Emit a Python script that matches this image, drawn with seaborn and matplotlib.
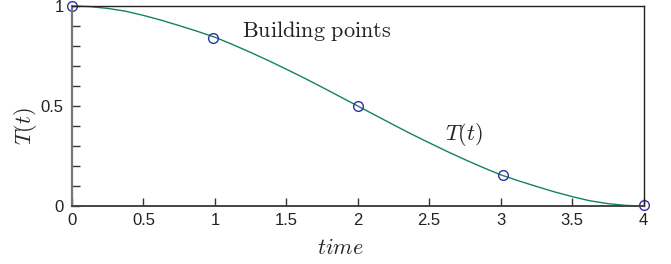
import numpy as np
import seaborn as sns
import matplotlib.pyplot as plt
from matplotlib.ticker import MultipleLocator

# curve values
t_curve = [0.0, 0.125, 0.25, 0.375, 0.5, 0.625, 0.75, 0.875, 1.0,
           1.125, 1.25, 1.375, 1.5, 1.625, 1.75, 1.875, 2.0,
           2.125, 2.25, 2.375, 2.5, 2.625, 2.75, 2.875, 3.0,
           3.125, 3.25, 3.375, 3.5, 3.625, 3.75, 3.875, 4.0]
T_curve = [1.0, 0.997, 0.988, 0.974, 0.953, 0.929, 0.902, 0.874, 0.844,
           0.807, 0.768, 0.727, 0.684, 0.640, 0.594, 0.547, 0.5,
           0.453, 0.406, 0.360, 0.316, 0.273, 0.232, 0.193, 0.156,
           0.126, 0.098, 0.071, 0.047, 0.026, 0.012, 0.003, 0.0]

# building points (circles)
t_pts = [0.0, 0.985, 2.0, 3.02, 4.0]
T_pts = [1.0, 0.84, 0.5, 0.155, 0.005]

x_ticks = [0, 0.5, 1, 1.5, 2, 2.5, 3, 3.5, 4]
x_labels = ['0', '0.5', '1', '1.5', '2', '2.5', '3', '3.5', '4']
y_ticks = [0, 0.5, 1]
y_labels = ['0', '0.5', '1']

sns.set_style('ticks')
plt.rcParams['font.family'] = ['Liberation Sans', 'DejaVu Sans']
plt.rcParams['mathtext.fontset'] = 'cm'

fig = plt.figure(figsize=(6.71, 2.64), dpi=100)
ax = fig.add_axes([72 / 671, 1 - 206 / 264, (643.5 - 72) / 671, 200 / 264])

sns.lineplot(x=t_curve, y=T_curve, ax=ax, color='#13845a', linewidth=1.0,
             clip_on=False)
sns.lineplot(x=t_pts, y=T_pts, ax=ax, marker='o', linestyle='none',
             markersize=7, markerfacecolor='none', markeredgecolor='#2f2fa8',
             markeredgewidth=1.0, clip_on=False)

ax.set_xlim(0, 4)
ax.set_ylim(0, 1)
ax.set_xticks(x_ticks)
ax.set_xticklabels(x_labels)
ax.set_yticks(y_ticks)
ax.set_yticklabels(y_labels)
ax.yaxis.set_minor_locator(MultipleLocator(0.1))
ax.tick_params(axis='both', which='both', direction='in', labelsize=12,
               color='#333333', labelcolor='#222222')
ax.tick_params(axis='both', which='major', length=6, width=1.0)
ax.tick_params(axis='y', which='minor', length=6, width=1.0)
ax.tick_params(axis='y', which='major', pad=6)
ax.tick_params(axis='x', which='major', pad=5)

for side in ['top', 'right']:
    ax.spines[side].set_visible(True)
    ax.spines[side].set_color('#222222')
    ax.spines[side].set_linewidth(1.0)
ax.spines['left'].set_color('#777777')
ax.spines['left'].set_linewidth(1.6)
ax.spines['bottom'].set_color('#444444')
ax.spines['bottom'].set_linewidth(1.4)

ax.set_xlabel(r'$time$', fontsize=16, va='center')
ax.xaxis.set_label_coords(0.47, -0.21)
ax.set_ylabel(r'$T(t)$', fontsize=16, va='center')
ax.yaxis.set_label_coords(-0.082, 0.40)

ax.text(1.19, 0.875, r'$\mathrm{Building\ points}$', fontsize=16,
        color='#222222', va='center', ha='left')
ax.text(2.61, 0.355, r'$T(t)$', fontsize=16, color='#222222',
        va='center', ha='left')

fig.savefig('out.png', dpi=100)
